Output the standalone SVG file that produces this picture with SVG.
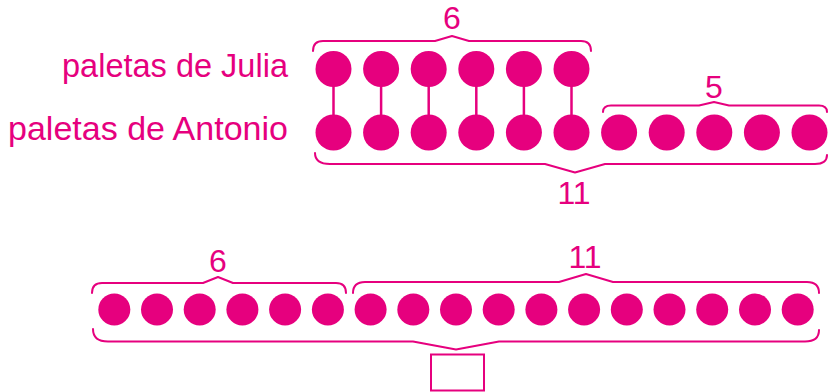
<svg xmlns="http://www.w3.org/2000/svg" width="830" height="392" viewBox="0 0 830 392">
<style>
.dot{fill:#E6007E}
.lbl{font-family:"Liberation Sans",Arial,sans-serif;font-size:33px;fill:#E6007E}
.num{font-family:"Liberation Sans",Arial,sans-serif;font-size:32px;fill:#E6007E;text-anchor:middle}
.br{fill:none;stroke:#E6007E;stroke-width:2;stroke-linejoin:round;stroke-linecap:round}
.link{stroke:#E6007E;stroke-width:2.5}
</style>
<rect width="830" height="392" fill="#fff"/>
<g id="labels">
<text class="lbl" x="288" y="77" text-anchor="end" textLength="226" lengthAdjust="spacingAndGlyphs">paletas de Julia</text>
<text class="lbl" x="288" y="140" text-anchor="end" textLength="280" lengthAdjust="spacingAndGlyphs">paletas de Antonio</text>
</g>
<g id="connectors">
<line class="link" x1="333.5" y1="69" x2="333.5" y2="132"/>
<line class="link" x1="381.1" y1="69" x2="381.1" y2="132"/>
<line class="link" x1="428.7" y1="69" x2="428.7" y2="132"/>
<line class="link" x1="476.3" y1="69" x2="476.3" y2="132"/>
<line class="link" x1="523.9" y1="69" x2="523.9" y2="132"/>
<line class="link" x1="571.5" y1="69" x2="571.5" y2="132"/>
</g>
<g id="julia">
<circle class="dot" cx="333.5" cy="69" r="18"/>
<circle class="dot" cx="381.1" cy="69" r="18"/>
<circle class="dot" cx="428.7" cy="69" r="18"/>
<circle class="dot" cx="476.3" cy="69" r="18"/>
<circle class="dot" cx="523.9" cy="69" r="18"/>
<circle class="dot" cx="571.5" cy="69" r="18"/>
</g>
<g id="antonio">
<circle class="dot" cx="333.5" cy="132.5" r="18"/>
<circle class="dot" cx="381.1" cy="132.5" r="18"/>
<circle class="dot" cx="428.7" cy="132.5" r="18"/>
<circle class="dot" cx="476.3" cy="132.5" r="18"/>
<circle class="dot" cx="523.9" cy="132.5" r="18"/>
<circle class="dot" cx="571.5" cy="132.5" r="18"/>
<circle class="dot" cx="619.1" cy="132.5" r="18"/>
<circle class="dot" cx="666.7" cy="132.5" r="18"/>
<circle class="dot" cx="714.3" cy="132.5" r="18"/>
<circle class="dot" cx="761.9" cy="132.5" r="18"/>
<circle class="dot" cx="809.5" cy="132.5" r="18"/>
</g>
<g id="brace-julia-6">
<path class="br" d="M313,51 Q313,41 323,41 L435,41 L452,36 L469,41 L581,41 Q591,41 591,51"/>
<text class="num" x="452" y="29">6</text>
</g>
<g id="brace-extra-5">
<path class="br" d="M603,112 Q603,105.5 611,105.5 L699,105.5 L714,102 L729,105.5 L819,105.5 Q827,105.5 827,112"/>
<text class="num" x="714" y="98">5</text>
</g>
<g id="brace-antonio-11">
<path class="br" d="M315,153 Q315,164 330,164 L545,164 L575,172.5 L605,164 L815,164 Q827,164 827,155"/>
<text class="num" x="574" y="204">11</text>
</g>
<g id="total-row">
<circle class="dot" cx="114.3" cy="309.5" r="16"/>
<circle class="dot" cx="157.0" cy="309.5" r="16"/>
<circle class="dot" cx="199.7" cy="309.5" r="16"/>
<circle class="dot" cx="242.4" cy="309.5" r="16"/>
<circle class="dot" cx="285.1" cy="309.5" r="16"/>
<circle class="dot" cx="327.9" cy="309.5" r="16"/>
<circle class="dot" cx="370.6" cy="309.5" r="16"/>
<circle class="dot" cx="413.3" cy="309.5" r="16"/>
<circle class="dot" cx="456.0" cy="309.5" r="16"/>
<circle class="dot" cx="498.7" cy="309.5" r="16"/>
<circle class="dot" cx="541.4" cy="309.5" r="16"/>
<circle class="dot" cx="584.1" cy="309.5" r="16"/>
<circle class="dot" cx="626.8" cy="309.5" r="16"/>
<circle class="dot" cx="669.5" cy="309.5" r="16"/>
<circle class="dot" cx="712.2" cy="309.5" r="16"/>
<circle class="dot" cx="755.0" cy="309.5" r="16"/>
<circle class="dot" cx="797.7" cy="309.5" r="16"/>
</g>
<g id="brace-bottom-6">
<path class="br" d="M92,293 Q92,283 102,283 L203,283 L218,277 L233,283 L336,283 Q346,283 346,293"/>
<text class="num" x="218" y="272">6</text>
</g>
<g id="brace-bottom-11">
<path class="br" d="M353,293 Q353,282 365,282 L559,282 L586,274 L613,282 L807,282 Q819,282 819,293"/>
<text class="num" x="585" y="268">11</text>
</g>
<g id="brace-bottom-total">
<path class="br" d="M93,329 Q93,341.5 108,341.5 L413,341.5 L456,349.5 L499,341.5 L805,341.5 Q819,341.5 819,330"/>
</g>
<g id="answer-box">
<rect x="431" y="354.5" width="53" height="36" fill="#fff" stroke="#E6007E" stroke-width="2"/>
</g>
</svg>
